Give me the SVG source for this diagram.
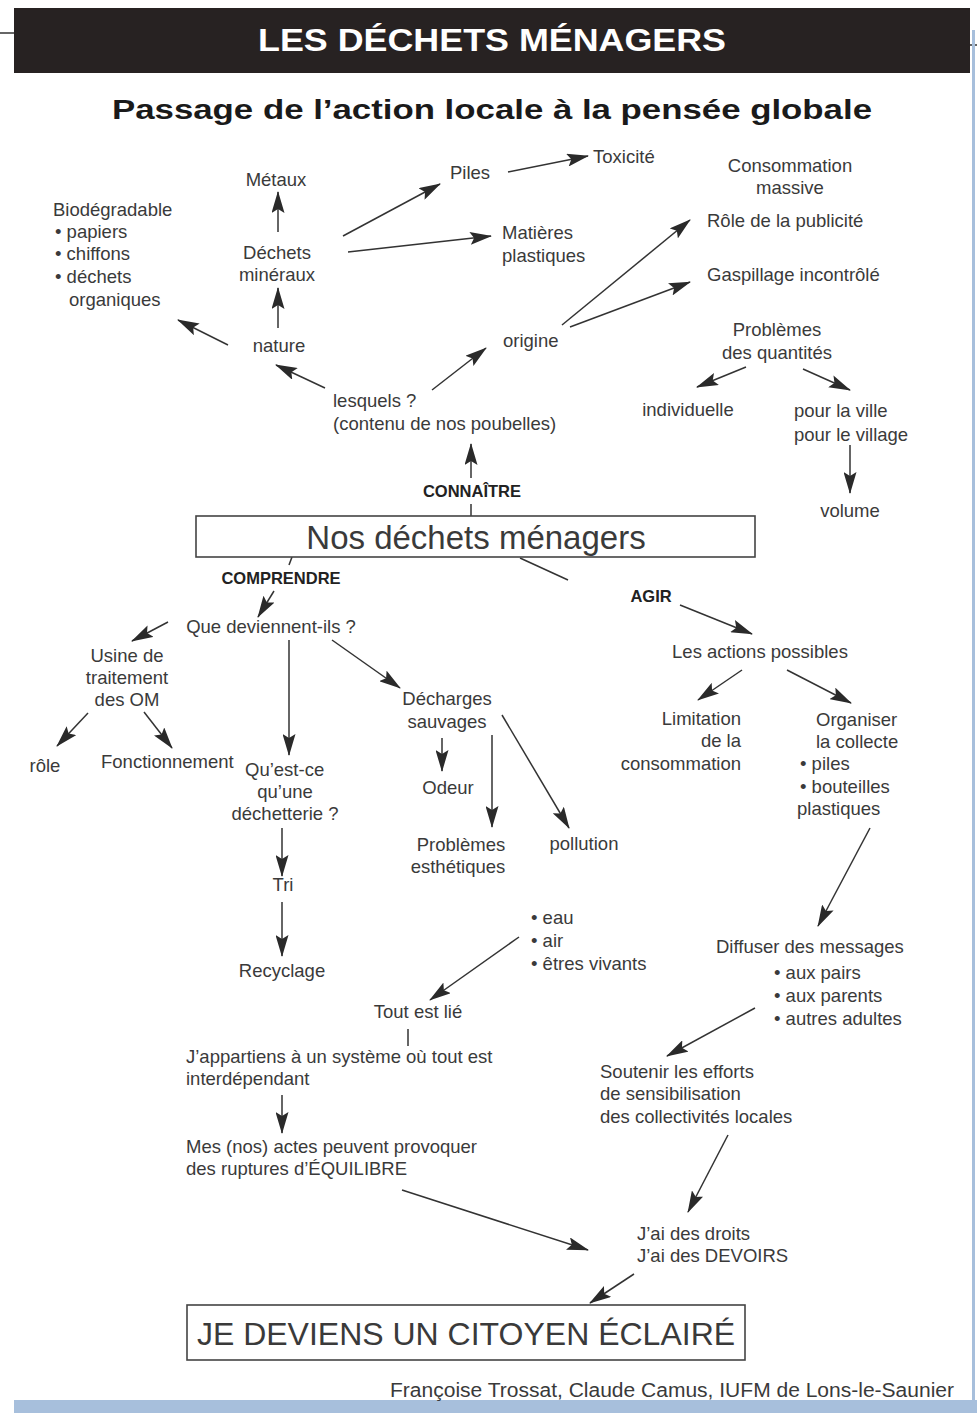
<svg xmlns="http://www.w3.org/2000/svg" width="977" height="1413" viewBox="0 0 977 1413">
<defs>
<marker id="ah" viewBox="0 0 22 13" refX="21" refY="6.5" markerWidth="22" markerHeight="13" markerUnits="userSpaceOnUse" orient="auto">
<path d="M0,0 L22,6.5 L0,13 L4,6.5 z" fill="#2a2a2a"/>
</marker>
<style>
text{font-family:"Liberation Sans","DejaVu Sans",sans-serif;fill:#3a3a3a;font-size:18.5px}
.c{text-anchor:middle}
.r{text-anchor:end}
.lbl{font-weight:bold;font-size:16.5px;fill:#222}
.big{font-size:33px}
.ln{stroke:#333;stroke-width:1.5;fill:none}
.ar{stroke:#333;stroke-width:1.5;fill:none;marker-end:url(#ah)}
.box{fill:#fff;stroke:#444;stroke-width:1.6}
</style>
</defs>
<rect width="977" height="1413" fill="#fff"/>
<g id="header">
<line x1="0" y1="33" x2="14" y2="33" stroke="#333" stroke-width="1.5"/>
<line x1="968" y1="45" x2="977" y2="45" stroke="#333" stroke-width="1.5"/>
<rect x="14" y="8" width="956" height="65" fill="#272222"/>
<text x="492" y="51" class="c" style="fill:#fff;font-weight:bold;font-size:31px" textLength="468" lengthAdjust="spacingAndGlyphs">LES DÉCHETS MÉNAGERS</text>
<text x="492" y="119" class="c" style="fill:#1a1a1a;font-weight:bold;font-size:27px" textLength="760" lengthAdjust="spacingAndGlyphs">Passage de l’action locale à la pensée globale</text>
</g>
<g id="frame">
<rect x="972" y="30" width="3" height="1372" fill="#a7bfdc"/>
<rect x="14" y="1400" width="963" height="13" fill="#a7bfdc"/>
</g>
<g id="connectors">
<line class="ar" x1="278" y1="232" x2="278" y2="192"/>
<line class="ar" x1="278" y1="328" x2="278" y2="288"/>
<line class="ar" x1="228" y1="345" x2="178" y2="320"/>
<line class="ar" x1="325" y1="388" x2="276" y2="365"/>
<line class="ar" x1="432" y1="390" x2="486" y2="348"/>
<line class="ar" x1="471" y1="478" x2="471" y2="444"/>
<line class="ln" x1="471" y1="504" x2="471" y2="516"/>
<line class="ar" x1="343" y1="236" x2="440" y2="184"/>
<line class="ar" x1="348" y1="252" x2="491" y2="236"/>
<line class="ar" x1="508" y1="172" x2="588" y2="156"/>
<line class="ar" x1="562" y1="325" x2="690" y2="220"/>
<line class="ar" x1="570" y1="327" x2="690" y2="282"/>
<line class="ar" x1="746" y1="367" x2="697" y2="387"/>
<line class="ar" x1="803" y1="369" x2="850" y2="390"/>
<line class="ar" x1="850" y1="445" x2="850" y2="493"/>
<line class="ln" x1="292" y1="557" x2="289" y2="565"/>
<line class="ar" x1="274" y1="591" x2="258" y2="617"/>
<line class="ln" x1="520" y1="558" x2="568" y2="580"/>
<line class="ar" x1="680" y1="605" x2="752" y2="634"/>
<line class="ar" x1="168" y1="622" x2="132" y2="641"/>
<line class="ar" x1="88" y1="713" x2="57" y2="746"/>
<line class="ar" x1="144" y1="712" x2="172" y2="748"/>
<line class="ar" x1="289" y1="640" x2="289" y2="755"/>
<line class="ar" x1="282" y1="828" x2="282" y2="876"/>
<line class="ar" x1="282" y1="902" x2="282" y2="956"/>
<line class="ar" x1="332" y1="640" x2="400" y2="688"/>
<line class="ar" x1="442" y1="738" x2="442" y2="771"/>
<line class="ar" x1="492" y1="735" x2="492" y2="827"/>
<line class="ar" x1="502" y1="715" x2="569" y2="828"/>
<line class="ar" x1="742" y1="670" x2="698" y2="700"/>
<line class="ar" x1="787" y1="670" x2="851" y2="703"/>
<line class="ar" x1="870" y1="828" x2="818" y2="926"/>
<line class="ar" x1="755" y1="1008" x2="667" y2="1056"/>
<line class="ar" x1="728" y1="1135" x2="688" y2="1212"/>
<line class="ar" x1="634" y1="1274" x2="590" y2="1303"/>
<line class="ar" x1="519" y1="937" x2="430" y2="1000"/>
<line class="ln" x1="408" y1="1029" x2="408" y2="1046"/>
<line class="ar" x1="282" y1="1095" x2="282" y2="1133"/>
<line class="ar" x1="402" y1="1190" x2="588" y2="1250"/>
</g>
<g id="n-biodegradable">
<text x="53" y="216">Biodégradable</text>
<text x="55" y="238">• papiers</text>
<text x="55" y="260">• chiffons</text>
<text x="55" y="283">• déchets</text>
<text x="69" y="306">organiques</text>
</g>
<g id="n-metaux"><text x="276" y="186" class="c">Métaux</text></g>
<g id="n-dechets-mineraux"><text x="277" y="259" class="c">Déchets</text><text x="277" y="281" class="c">minéraux</text></g>
<g id="n-nature"><text x="279" y="352" class="c">nature</text></g>
<g id="n-lesquels"><text x="333" y="407">lesquels ?</text><text x="333" y="430">(contenu de nos poubelles)</text></g>
<g id="n-origine"><text x="503" y="347">origine</text></g>
<g id="n-piles"><text x="450" y="179">Piles</text></g>
<g id="n-toxicite"><text x="593" y="163">Toxicité</text></g>
<g id="n-matieres"><text x="502" y="239">Matières</text><text x="502" y="262">plastiques</text></g>
<g id="n-consommation"><text x="790" y="172" class="c">Consommation</text><text x="790" y="194" class="c">massive</text></g>
<g id="n-publicite"><text x="707" y="227">Rôle de la publicité</text></g>
<g id="n-gaspillage"><text x="707" y="281">Gaspillage incontrôlé</text></g>
<g id="n-problemes-quantites"><text x="777" y="336" class="c">Problèmes</text><text x="777" y="359" class="c">des quantités</text></g>
<g id="n-individuelle"><text x="688" y="416" class="c">individuelle</text></g>
<g id="n-ville"><text x="794" y="417">pour la ville</text><text x="794" y="441">pour le village</text></g>
<g id="n-volume"><text x="850" y="517" class="c">volume</text></g>
<g id="n-connaitre"><text x="472" y="497" class="c lbl">CONNAÎTRE</text></g>
<g id="n-nos-dechets">
<rect class="box" x="196" y="516" width="559" height="41"/>
<text x="476" y="549" class="c big">Nos déchets ménagers</text>
</g>
<g id="n-comprendre"><text x="281" y="584" class="c lbl">COMPRENDRE</text></g>
<g id="n-agir"><text x="651" y="602" class="c lbl">AGIR</text></g>
<g id="n-que-deviennent"><text x="271" y="633" class="c">Que deviennent-ils ?</text></g>
<g id="n-usine"><text x="127" y="662" class="c">Usine de</text><text x="127" y="684" class="c">traitement</text><text x="127" y="706" class="c">des OM</text></g>
<g id="n-role"><text x="45" y="772" class="c">rôle</text></g>
<g id="n-fonctionnement"><text x="101" y="768">Fonctionnement</text></g>
<g id="n-dechetterie"><text x="245" y="776">Qu’est-ce</text><text x="285" y="798" class="c">qu’une</text><text x="285" y="820" class="c">déchetterie ?</text></g>
<g id="n-tri"><text x="283" y="891" class="c">Tri</text></g>
<g id="n-recyclage"><text x="282" y="977" class="c">Recyclage</text></g>
<g id="n-decharges"><text x="447" y="705" class="c">Décharges</text><text x="447" y="728" class="c">sauvages</text></g>
<g id="n-odeur"><text x="448" y="794" class="c">Odeur</text></g>
<g id="n-esthetiques"><text x="461" y="851" class="c">Problèmes</text><text x="458" y="873" class="c">esthétiques</text></g>
<g id="n-pollution"><text x="584" y="850" class="c">pollution</text></g>
<g id="n-actions"><text x="760" y="658" class="c">Les actions possibles</text></g>
<g id="n-limitation"><text x="741" y="725" class="r">Limitation</text><text x="741" y="747" class="r">de la</text><text x="741" y="770" class="r">consommation</text></g>
<g id="n-organiser"><text x="816" y="726">Organiser</text><text x="816" y="748">la collecte</text><text x="800" y="770">• piles</text><text x="800" y="793">• bouteilles</text><text x="797" y="815">plastiques</text></g>
<g id="n-diffuser"><text x="716" y="953">Diffuser des messages</text><text x="774" y="979">• aux pairs</text><text x="774" y="1002">• aux parents</text><text x="774" y="1025">• autres adultes</text></g>
<g id="n-soutenir"><text x="600" y="1078">Soutenir les efforts</text><text x="600" y="1100">de sensibilisation</text><text x="600" y="1123">des collectivités locales</text></g>
<g id="n-droits"><text x="637" y="1240">J’ai des droits</text><text x="637" y="1262">J’ai des DEVOIRS</text></g>
<g id="n-eau"><text x="531" y="924">• eau</text><text x="531" y="947">• air</text><text x="531" y="970">• êtres vivants</text></g>
<g id="n-tout-est-lie"><text x="418" y="1018" class="c">Tout est lié</text></g>
<g id="n-systeme"><text x="186" y="1063">J’appartiens à un système où tout est</text><text x="186" y="1085">interdépendant</text></g>
<g id="n-actes"><text x="186" y="1153">Mes (nos) actes peuvent provoquer</text><text x="186" y="1175">des ruptures d’ÉQUILIBRE</text></g>
<g id="n-citoyen">
<rect class="box" x="187" y="1305" width="558" height="55"/>
<text x="466" y="1345" class="c" style="font-size:32px">JE DEVIENS UN CITOYEN ÉCLAIRÉ</text>
</g>
<g id="credit"><text x="390" y="1397" style="font-size:20px" textLength="564" lengthAdjust="spacingAndGlyphs">Françoise Trossat, Claude Camus, IUFM de Lons-le-Saunier</text></g>
</svg>
